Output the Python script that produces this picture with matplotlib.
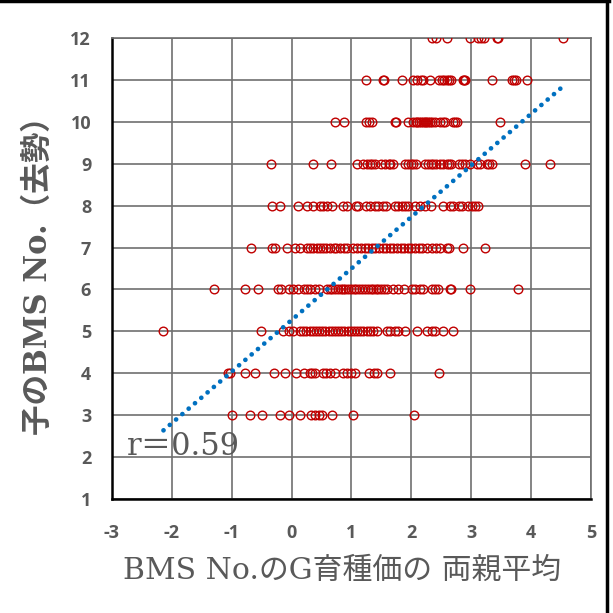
import matplotlib
matplotlib.use('Agg')
import numpy as np
import matplotlib.pyplot as plt
from matplotlib.lines import Line2D

plt.rcParams['axes.unicode_minus'] = False

# ── data: parent-average G breeding value (x) per offspring BMS No. (y) ──────
x_bms12 = [2.35, 2.41, 2.59, 2.98, 3.12, 3.17, 3.21, 3.43, 3.45, 4.54]
x_bms11 = [1.24, 1.52, 1.55, 1.85, 2.03, 2.09, 2.16, 2.19, 2.31, 2.47, 2.51, 2.55,
           2.59, 2.63, 2.67, 2.86, 2.88, 2.90, 3.34, 3.68, 3.72, 3.75, 3.94]
x_bms10 = [0.73, 0.88, 1.25, 1.30, 1.34, 1.72, 1.74, 1.95, 2.03, 2.07, 2.10, 2.13,
           2.16, 2.19, 2.22, 2.25, 2.28, 2.31, 2.35, 2.40, 2.48, 2.53, 2.56, 2.69,
           2.73, 2.76, 3.48]
x_bms9 = [-0.34, 0.35, 0.66, 1.09, 1.20, 1.26, 1.31, 1.35, 1.39, 1.50, 1.56, 1.62,
          1.65, 1.69, 1.89, 1.95, 1.99, 2.03, 2.08, 2.23, 2.28, 2.33, 2.37, 2.42,
          2.48, 2.53, 2.59, 2.63, 2.67, 2.79, 2.84, 2.90, 2.98, 3.09, 3.15, 3.26,
          3.30, 3.34, 3.90, 4.32]
x_bms8 = [-0.32, -0.19, 0.11, 0.25, 0.36, 0.47, 0.53, 0.59, 0.67, 0.86, 0.92, 1.08,
          1.11, 1.25, 1.31, 1.39, 1.45, 1.52, 1.58, 1.73, 1.78, 1.84, 1.89, 1.95,
          2.06, 2.14, 2.23, 2.33, 2.53, 2.65, 2.70, 2.79, 2.84, 2.95, 3.01, 3.06, 3.12]
x_bms7 = [-0.68, -0.33, -0.28, -0.08, 0.06, 0.14, 0.25, 0.31, 0.36, 0.42, 0.48,
          0.53, 0.58, 0.64, 0.70, 0.75, 0.81, 0.87, 0.92, 1.03, 1.10, 1.16, 1.22,
          1.28, 1.34, 1.40, 1.46, 1.52, 1.58, 1.64, 1.70, 1.76, 1.82, 1.88, 1.94,
          2.00, 2.06, 2.12, 2.18, 2.26, 2.34, 2.42, 2.48, 2.59, 2.63, 2.87, 3.23]
x_bms6 = [-1.29, -0.77, -0.56, -0.23, -0.17, -0.05, 0.03, 0.11, 0.20, 0.25, 0.31,
          0.39, 0.45, 0.59, 0.64, 0.68, 0.72, 0.77, 0.82, 0.86, 0.90, 0.95, 1.00,
          1.04, 1.08, 1.13, 1.18, 1.22, 1.27, 1.32, 1.36, 1.41, 1.45, 1.50, 1.55,
          1.59, 1.70, 1.78, 1.87, 2.01, 2.06, 2.14, 2.20, 2.34, 2.40, 2.45, 2.65,
          2.67, 2.98, 3.79]
x_bms5 = [-2.14, -0.51, -0.14, -0.05, 0.02, 0.14, 0.19, 0.24, 0.30, 0.35, 0.40,
          0.46, 0.51, 0.56, 0.62, 0.67, 0.72, 0.78, 0.83, 0.88, 0.94, 0.99, 1.04,
          1.10, 1.15, 1.20, 1.26, 1.31, 1.36, 1.42, 1.59, 1.64, 1.73, 1.78, 1.89,
          2.09, 2.26, 2.34, 2.40, 2.53, 2.70]
x_bms4 = [-1.06, -1.03, -0.77, -0.61, -0.29, -0.11, 0.08, 0.21, 0.30, 0.34, 0.39,
          0.53, 0.57, 0.64, 0.72, 0.86, 0.92, 1.00, 1.06, 1.30, 1.38, 1.42, 1.65, 2.47]
x_bms3 = [-0.99, -0.69, -0.50, -0.20, -0.04, 0.14, 0.32, 0.39, 0.45, 0.50, 0.67,
          1.03, 2.05]

rows = {12: x_bms12, 11: x_bms11, 10: x_bms10, 9: x_bms9, 8: x_bms8,
        7: x_bms7, 6: x_bms6, 5: x_bms5, 4: x_bms4, 3: x_bms3}

trend_slope = 1.23
trend_intercept = 5.27
r_text = "r＝0.59"

x_ticks = list(range(-3, 6))
y_ticks = list(range(1, 13))

# ── figure ─────────────────────────────────────────────────────────────────
grey = '#595959'
serif_cjk = ['DejaVu Serif', 'Noto Sans CJK JP']

fig = plt.figure(figsize=(6.13, 6.13), dpi=100)
ax = fig.add_axes([0.1827, 0.186, 0.7813, 0.752])

xs = np.concatenate([np.array(v) for v in rows.values()])
ys = np.concatenate([np.full(len(v), k) for k, v in rows.items()])

ax.plot(xs, ys, 'o', linestyle='none', markerfacecolor='none',
        markeredgecolor='#C00000', markeredgewidth=1.0, markersize=6.2, zorder=3)

tx = np.array([xs.min(), xs.max()])
ax.plot(tx, trend_slope * tx + trend_intercept, color='#0070C0', lw=3.4,
        linestyle=(0, (0.01, 1.75)), dash_capstyle='round', zorder=4)

ax.text(-2.75, 2.05, r_text, family=serif_cjk, fontsize=22, color=grey,
        va='baseline', ha='left', zorder=5)

ax.set_xlim(-3, 5)
ax.set_ylim(1, 12)
ax.set_xticks(x_ticks)
ax.set_yticks(y_ticks)
ax.grid(True, color='#707070', lw=1.2)
ax.set_axisbelow(True)
ax.tick_params(length=0, labelsize=13, labelcolor=grey)
ax.tick_params(axis='x', pad=18)
ax.tick_params(axis='y', pad=15)
for lab in ax.get_xticklabels() + ax.get_yticklabels():
    lab.set_family('Open Sans')
    lab.set_fontweight('bold')

for s in ['top', 'right']:
    ax.spines[s].set_color('#707070')
    ax.spines[s].set_linewidth(1.2)
for s in ['left', 'bottom']:
    ax.spines[s].set_color('black')
    ax.spines[s].set_linewidth(1.8)

ax.set_xlabel('BMS No.のG育種価の 両親平均', family=serif_cjk, fontsize=21.5,
              color=grey, labelpad=12)
ax.xaxis.set_label_coords(0.48, -0.125)
ax.set_ylabel('子のBMS No.（去勢）', family=serif_cjk, fontsize=22,
              color=grey, fontweight='bold', labelpad=12)

# outer frame lines (top and right) of the original image
fig.add_artist(Line2D([0, 0.993], [0.998, 0.998], transform=fig.transFigure,
                      color='black', lw=2.5))
fig.add_artist(Line2D([0.991, 0.991], [0, 0.998], transform=fig.transFigure,
                      color='black', lw=2.5))

fig.savefig('out.png', dpi=100)
